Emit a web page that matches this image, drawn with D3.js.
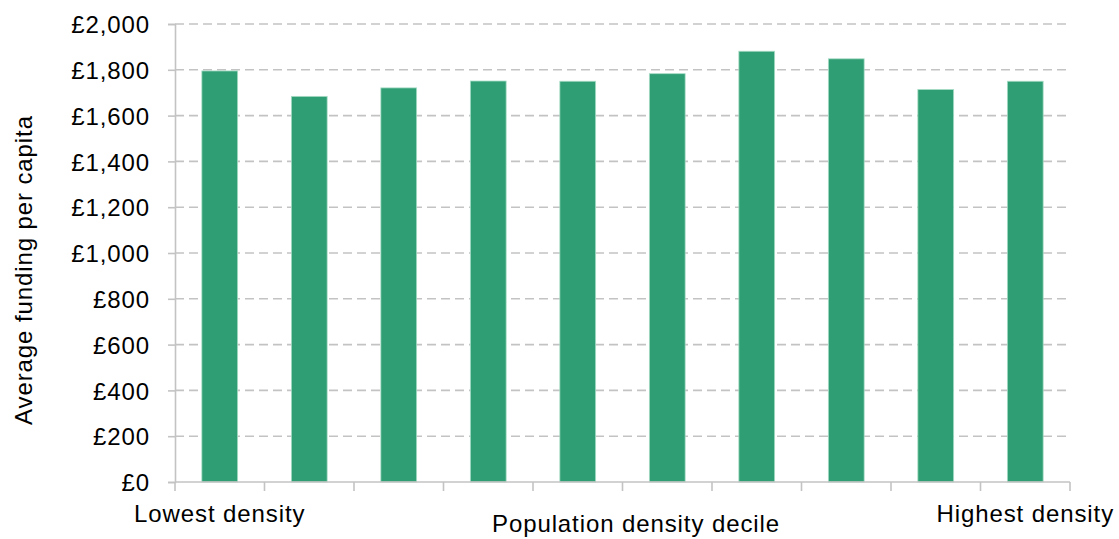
<!DOCTYPE html>
<html>
<head>
<meta charset="utf-8">
<script src="https://cdn.jsdelivr.net/npm/d3@7"></script>
<style>
  html, body { margin: 0; padding: 0; background: #fff; }
  svg text { font-family: "Liberation Sans", Arial, sans-serif; fill: #000; }
</style>
</head>
<body>
<svg id="chart" width="1119" height="539"></svg>
<script>
const categories = ["1","2","3","4","5","6","7","8","9","10"];
const values = [1795, 1684, 1721, 1751, 1750, 1783, 1881, 1848, 1714, 1750];
const yTicks = [0, 200, 400, 600, 800, 1000, 1200, 1400, 1600, 1800, 2000];
const xEndLabels = ["Lowest density", "Highest density"];
const xTitle = "Population density decile";
const yTitle = "Average funding per capita";

const svg = d3.select("#chart");
const pLeft = 175, pRight = 1070, pTop = 24, pBottom = 482;
const fs = "24px", ls = "0.9px";

const x = d3.scaleBand().domain(categories).range([pLeft, pRight]).paddingInner(0.6).paddingOuter(0.3);
const xb = d3.scaleBand().domain(categories).range([pLeft, pRight]);
const y = d3.scaleLinear().domain([0, 2000]).range([pBottom, pTop]);

// gridlines
svg.append("g").selectAll("line").data(yTicks.filter(d => d > 0)).join("line")
  .attr("x1", pLeft).attr("x2", pRight)
  .attr("y1", d => y(d)).attr("y2", d => y(d))
  .attr("stroke", "#c3c3c3").attr("stroke-width", 1.6)
  .attr("stroke-dasharray", "9,5");

// bars
svg.append("g").selectAll("rect").data(values).join("rect")
  .attr("x", (d, i) => x(categories[i]))
  .attr("width", x.bandwidth())
  .attr("y", d => y(d))
  .attr("height", d => y(0) - y(d))
  .attr("fill", "#2f9e74")
  .attr("stroke", "#a8dcc6").attr("stroke-width", 0.8);

// y axis
const yAxis = d3.axisLeft(y).tickValues(yTicks).tickSize(7).tickPadding(18)
  .tickFormat(d => "£" + d3.format(",")(d));
const gy = svg.append("g").attr("transform", `translate(${pLeft},0)`).call(yAxis);
gy.select(".domain").attr("stroke", "#c3c3c3").attr("stroke-width", 1.6);
gy.selectAll(".tick line").attr("stroke", "#c3c3c3").attr("stroke-width", 1.6);
gy.selectAll(".tick text").style("font-size", fs).style("letter-spacing", ls)
  .attr("font-family", null).attr("fill", "#000").attr("dy", "0.36em");
gy.attr("font-family", null).attr("font-size", null);

// x axis line and ticks at band boundaries
const bounds = categories.map(c => xb(c)).concat([pRight]);
svg.append("line").attr("x1", pLeft).attr("x2", pRight).attr("y1", pBottom).attr("y2", pBottom)
  .attr("stroke", "#c3c3c3").attr("stroke-width", 1.6);
svg.append("g").selectAll("line").data(bounds).join("line")
  .attr("x1", d => d).attr("x2", d => d).attr("y1", pBottom).attr("y2", pBottom + 9)
  .attr("stroke", "#c3c3c3").attr("stroke-width", 1.6);

// x end labels
const endCats = [categories[0], categories[categories.length - 1]];
svg.append("g").selectAll("text").data(xEndLabels).join("text")
  .attr("x", (d, i) => xb(endCats[i]) + xb.bandwidth() / 2)
  .attr("y", 522)
  .attr("text-anchor", "middle")
  .style("font-size", fs).style("letter-spacing", ls)
  .text(d => d);

// x title
svg.append("text").attr("x", 636).attr("y", 532).attr("text-anchor", "middle")
  .style("font-size", fs).style("letter-spacing", ls).text(xTitle);

// y title
svg.append("text").attr("transform", "translate(32,270) rotate(-90)")
  .attr("text-anchor", "middle")
  .style("font-size", fs).style("letter-spacing", ls).text(yTitle);
</script>
</body>
</html>
